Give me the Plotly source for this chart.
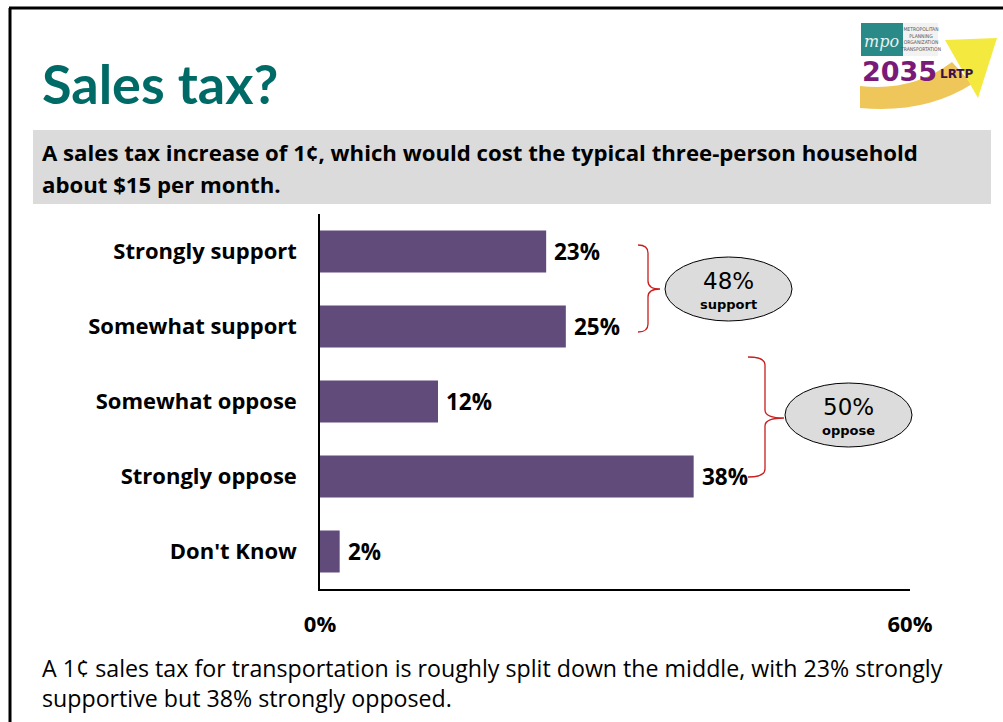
import plotly.graph_objects as go

# Survey responses
categories = ["Strongly support", "Somewhat support", "Somewhat oppose", "Strongly oppose", "Don't Know"]
values = [23, 25, 12, 38, 2]
x_ticks = [0, 60]
x_tick_labels = ["0%", "60%"]
support_total = 48
oppose_total = 50

W, H = 1003, 722
BAR = "#614B7A"
TITLE_FONT = "Lato"
FONT = "Open Sans"


def X(px):
    return px / W


def Y(py):
    return 1 - py / H


fig = go.Figure()
fig.add_trace(go.Bar(
    x=values,
    y=list(range(len(categories))),
    orientation="h",
    marker=dict(color=BAR, line=dict(width=0)),
    width=0.56,
    hoverinfo="skip",
))

annotations = []
# value labels next to each bar
for i, v in enumerate(values):
    annotations.append(dict(
        x=v, y=i, xref="x", yref="y", text=f"<b>{v}%</b>", showarrow=False,
        xanchor="left", yanchor="middle", xshift=6,
        font=dict(family=FONT, size=22.5, color="black"),
    ))

# title, question box text, and summary
annotations += [
    dict(x=X(40), y=Y(83), xref="paper", yref="paper", text="<b>Sales tax?</b>",
         showarrow=False, xanchor="left", yanchor="middle",
         font=dict(family=TITLE_FONT, size=54, color="#006B66")),
    dict(x=X(40), y=Y(153), xref="paper", yref="paper",
         text="<b>A sales tax increase of 1¢, which would cost the typical three-person household</b>",
         showarrow=False, xanchor="left", yanchor="middle",
         font=dict(family=FONT, size=22.2, color="black")),
    dict(x=X(40), y=Y(184), xref="paper", yref="paper",
         text="<b>about $15 per month.</b>",
         showarrow=False, xanchor="left", yanchor="middle",
         font=dict(family=FONT, size=22.2, color="black")),
    dict(x=X(40), y=Y(668), xref="paper", yref="paper",
         text="A 1¢ sales tax for transportation is roughly split down the middle, with 23% strongly",
         showarrow=False, xanchor="left", yanchor="middle",
         font=dict(family=FONT, size=23.2, color="black")),
    dict(x=X(40), y=Y(698), xref="paper", yref="paper",
         text="supportive but 38% strongly opposed.",
         showarrow=False, xanchor="left", yanchor="middle",
         font=dict(family=FONT, size=23.2, color="black")),
]

# group totals inside the ovals
for cx, cy, total, word in [(728, 289, support_total, "support"), (848, 415, oppose_total, "oppose")]:
    annotations.append(dict(
        x=X(cx), y=Y(cy - 8), xref="paper", yref="paper", text=f"{total}%",
        showarrow=False, xanchor="center", yanchor="middle",
        font=dict(family="DejaVu Sans", size=23, color="black")))
    annotations.append(dict(
        x=X(cx), y=Y(cy + 15), xref="paper", yref="paper", text=f"<b>{word}</b>",
        showarrow=False, xanchor="center", yanchor="middle",
        font=dict(family="DejaVu Sans", size=13, color="black")))

# logo text
annotations += [
    dict(x=X(881), y=Y(41), xref="paper", yref="paper", text="<i>mpo</i>", showarrow=False,
         xanchor="center", yanchor="middle",
         font=dict(family="DejaVu Serif", size=16, color="#E8F0F0")),
    dict(x=X(920), y=Y(39), xref="paper", yref="paper",
         text="METROPOLITAN<br>PLANNING<br>ORGANIZATION<br>TRANSPORTATION",
         showarrow=False, xanchor="center", yanchor="middle",
         font=dict(family="DejaVu Sans Condensed", size=5, color="#555555")),
    dict(x=X(899), y=Y(71), xref="paper", yref="paper", text="<b>2035</b>", showarrow=False,
         xanchor="center", yanchor="middle",
         font=dict(family="DejaVu Sans", size=27, color="#7A1A78")),
    dict(x=X(957), y=Y(74), xref="paper", yref="paper", text="<b>LRTP</b>", showarrow=False,
         xanchor="center", yanchor="middle",
         font=dict(family="DejaVu Sans", size=12, color="#3A1048")),
]


def brace(x0, xv, xt, yt, ym, yb, r=8):
    p = [
        f"M {X(x0)},{Y(yt)}",
        f"Q {X(xv)},{Y(yt)} {X(xv)},{Y(yt + r)}",
        f"L {X(xv)},{Y(ym - r)}",
        f"Q {X(xv)},{Y(ym)} {X(xt)},{Y(ym)}",
        f"Q {X(xv)},{Y(ym)} {X(xv)},{Y(ym + r)}",
        f"L {X(xv)},{Y(yb - r)}",
        f"Q {X(xv)},{Y(yb)} {X(x0)},{Y(yb)}",
    ]
    return dict(type="path", path=" ".join(p), xref="paper", yref="paper",
                line=dict(color="#C81E1E", width=1.3), layer="above")


shapes = [
    # slide frame
    dict(type="line", xref="paper", yref="paper", x0=X(9), x1=1, y0=Y(8), y1=Y(8),
         line=dict(color="black", width=3)),
    dict(type="line", xref="paper", yref="paper", x0=X(10), x1=X(10), y0=Y(8), y1=0,
         line=dict(color="black", width=3)),
    # question box
    dict(type="rect", xref="paper", yref="paper", x0=X(33), x1=X(991), y0=Y(204), y1=Y(130),
         fillcolor="#DBDBDB", line=dict(width=0), layer="below"),
    # logo arrow
    dict(type="path", xref="paper", yref="paper",
         path=f"M {X(860)},{Y(86)} Q {X(912)},{Y(92)} {X(952)},{Y(62)} L {X(972)},{Y(84)} "
              f"Q {X(925)},{Y(114)} {X(860)},{Y(108)} Z",
         fillcolor="#EFC65A", line=dict(width=0)),
    dict(type="path", xref="paper", yref="paper",
         path=f"M {X(945)},{Y(40)} L {X(997)},{Y(38)} L {X(978)},{Y(98)} Z",
         fillcolor="#F4E93E", line=dict(width=0)),
    dict(type="rect", xref="paper", yref="paper", x0=X(861), x1=X(903), y0=Y(56), y1=Y(23),
         fillcolor="#2A8A88", line=dict(width=0)),
    dict(type="rect", xref="paper", yref="paper", x0=X(903), x1=X(938), y0=Y(56), y1=Y(23),
         fillcolor="#F2F2F2", line=dict(width=0)),
    # braces
    brace(638, 648, 660, 245, 289, 332),
    brace(748, 765, 784, 357, 418, 477),
    # ovals
    dict(type="circle", xref="paper", yref="paper", x0=X(665), x1=X(792), y0=Y(321), y1=Y(257),
         fillcolor="#DCDCDC", line=dict(color="black", width=1)),
    dict(type="circle", xref="paper", yref="paper", x0=X(785), x1=X(912), y0=Y(447), y1=Y(383),
         fillcolor="#DCDCDC", line=dict(color="black", width=1)),
]

fig.update_layout(
    width=W, height=H,
    margin=dict(l=0, r=0, t=0, b=0, pad=0),
    paper_bgcolor="white", plot_bgcolor="white",
    showlegend=False,
    annotations=annotations,
    shapes=shapes,
    xaxis=dict(
        domain=[X(320), X(910)], range=[0, 60], automargin=False,
        tickvals=x_ticks, ticktext=[f"<b>{t}</b>" for t in x_tick_labels],
        showgrid=False, zeroline=False, ticks="",
        showline=True, linecolor="black", linewidth=1.5,
        ticklabelstandoff=15,
        tickfont=dict(family=FONT, size=22, color="black"),
    ),
    yaxis=dict(
        domain=[Y(589), Y(214)], range=[4.5, -0.5], automargin=False,
        tickvals=list(range(len(categories))),
        ticktext=[f"<b>{c}</b>" for c in categories],
        showgrid=False, zeroline=False, ticks="",
        showline=True, linecolor="black", linewidth=1.5,
        ticklabelstandoff=17,
        tickfont=dict(family=FONT, size=22, color="black"),
    ),
)

fig.write_html("out.html")
